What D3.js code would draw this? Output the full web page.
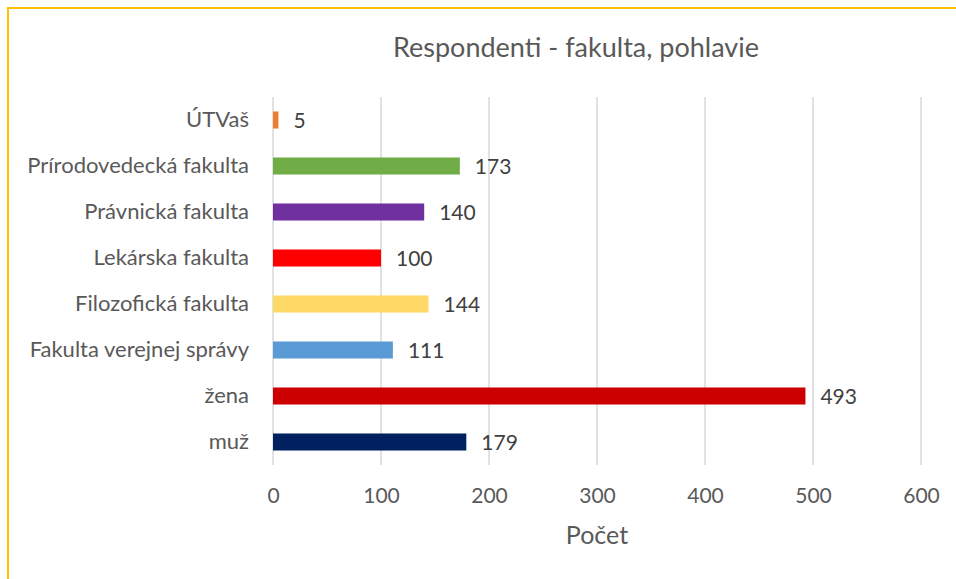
<!DOCTYPE html>
<meta charset="utf-8">
<style>
body { margin: 0; background: #fff; }
text { font-family: Lato, "Open Sans", sans-serif; }
</style>

<svg width="956" height="579"></svg>

<script src="https://d3js.org/d3.v7.min.js"></script>
<script>

// data
var kategorie = ["muž", "žena", "Fakulta verejnej správy", "Filozofická fakulta",
                 "Lekárska fakulta", "Právnická fakulta", "Prírodovedecká fakulta", "ÚTVaš"];
var pocty = [179, 493, 111, 144, 100, 140, 173, 5];
var farby = ["#002060", "#cc0000", "#5b9bd5", "#ffd966", "#ff0000", "#7030a0", "#70ad47", "#ed7d31"];
var ticky = [0, 100, 200, 300, 400, 500, 600];

var svg = d3.select("svg");

// ramik
svg.append("path")
    .attr("d", "M8,579 V8 H956")
    .attr("fill", "none")
    .attr("stroke", "#ffc000")
    .attr("stroke-width", 2);

var x = d3.scaleLinear().domain([0, 600]).range([273, 921]);
var y = d3.scaleBand()
    .domain(kategorie.slice().reverse())
    .range([97, 465])
    .paddingInner(0.63)
    .paddingOuter(0.315);

// mriezka
svg.append("g")
  .selectAll("line")
  .data(ticky)
  .enter().append("line")
    .attr("x1", d => x(d)).attr("x2", d => x(d))
    .attr("y1", 97).attr("y2", 465)
    .attr("stroke", "#d9d9d9")
    .attr("stroke-width", 1.5);

var data = kategorie.map((k, i) => ({k: k, v: pocty[i], c: farby[i]}));

svg.append("g")
  .selectAll("rect")
  .data(data)
  .enter().append("rect")
    .attr("x", x(0))
    .attr("y", d => y(d.k))
    .attr("width", d => x(d.v) - x(0))
    .attr("height", y.bandwidth())
    .attr("fill", d => d.c);

// hodnoty
svg.append("g")
  .selectAll("text")
  .data(data)
  .enter().append("text")
    .attr("x", d => x(d.v) + 15)
    .attr("y", d => y(d.k) + y.bandwidth() / 2)
    .attr("dy", "0.38em")
    .attr("font-size", 21)
    .attr("fill", "#404040")
    .text(d => d.v);

// os y
var yAxis = svg.append("g")
    .attr("transform", "translate(249,0)")
    .call(d3.axisLeft(y).tickSize(0).tickPadding(0));
yAxis.select(".domain").remove();
yAxis.selectAll("text")
    .attr("font-size", 22)
    .attr("dy", "0.34em")
    .attr("fill", "#595959")
    .style("font-family", "Lato, 'Open Sans', sans-serif");

// os x
var xAxis = svg.append("g")
    .attr("transform", "translate(0,488)")
    .call(d3.axisBottom(x).tickValues(ticky).tickSize(0).tickPadding(0));
xAxis.select(".domain").remove();
xAxis.selectAll("text")
    .attr("font-size", 21)
    .attr("fill", "#595959")
    .style("font-family", "Lato, 'Open Sans', sans-serif");

svg.append("text")
    .attr("x", 597)
    .attr("y", 544)
    .attr("text-anchor", "middle")
    .attr("font-size", 25)
    .attr("fill", "#595959")
    .text("Počet");

svg.append("text")
    .attr("x", 576)
    .attr("y", 57)
    .attr("text-anchor", "middle")
    .attr("font-size", 27)
    .attr("fill", "#595959")
    .text("Respondenti - fakulta, pohlavie");

</script>
